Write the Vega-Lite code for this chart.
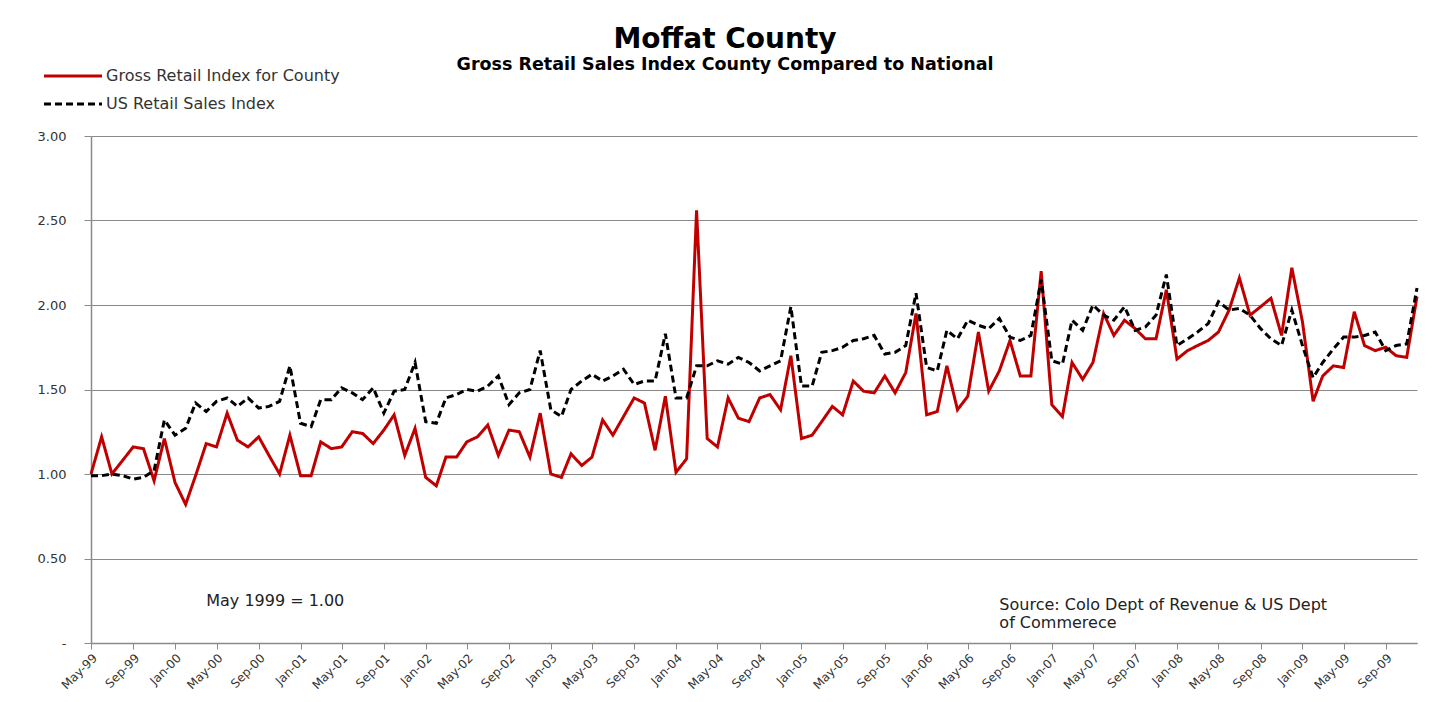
{
  "$schema": "https://vega.github.io/schema/vega-lite/v6.json",
  "width": 1326,
  "height": 507,
  "autosize": {"type": "none"},
  "padding": {"left": 91, "top": 136, "right": 17, "bottom": 59},
  "background": "white",
  "config": {
    "font": "DejaVu Sans",
    "view": {"stroke": null}
  },
  "title": {
    "text": "Moffat County",
    "subtitle": "Gross Retail Sales Index County Compared to National",
    "anchor": "middle",
    "dx": -29,
    "fontSize": 28,
    "fontWeight": "bold",
    "color": "#000000",
    "subtitleFontSize": 17.5,
    "subtitleFontWeight": "bold",
    "subtitleColor": "#000000",
    "subtitlePadding": 2,
    "offset": -5
  },
  "datasets": {
    "index": [
      {"date": "1999-05-01", "county": 1.00, "us": 0.99},
      {"date": "1999-06-01", "county": 1.22, "us": 0.99},
      {"date": "1999-07-01", "county": 1.00, "us": 1.00},
      {"date": "1999-08-01", "county": 1.08, "us": 0.99},
      {"date": "1999-09-01", "county": 1.16, "us": 0.97},
      {"date": "1999-10-01", "county": 1.15, "us": 0.98},
      {"date": "1999-11-01", "county": 0.96, "us": 1.02},
      {"date": "1999-12-01", "county": 1.21, "us": 1.32},
      {"date": "2000-01-01", "county": 0.95, "us": 1.23},
      {"date": "2000-02-01", "county": 0.82, "us": 1.27},
      {"date": "2000-03-01", "county": 0.99, "us": 1.42},
      {"date": "2000-04-01", "county": 1.18, "us": 1.37},
      {"date": "2000-05-01", "county": 1.16, "us": 1.43},
      {"date": "2000-06-01", "county": 1.36, "us": 1.45},
      {"date": "2000-07-01", "county": 1.20, "us": 1.40},
      {"date": "2000-08-01", "county": 1.16, "us": 1.45},
      {"date": "2000-09-01", "county": 1.22, "us": 1.39},
      {"date": "2000-10-01", "county": 1.11, "us": 1.40},
      {"date": "2000-11-01", "county": 1.00, "us": 1.43},
      {"date": "2000-12-01", "county": 1.23, "us": 1.64},
      {"date": "2001-01-01", "county": 0.99, "us": 1.30},
      {"date": "2001-02-01", "county": 0.99, "us": 1.28},
      {"date": "2001-03-01", "county": 1.19, "us": 1.44},
      {"date": "2001-04-01", "county": 1.15, "us": 1.44},
      {"date": "2001-05-01", "county": 1.16, "us": 1.51},
      {"date": "2001-06-01", "county": 1.25, "us": 1.48},
      {"date": "2001-07-01", "county": 1.24, "us": 1.44},
      {"date": "2001-08-01", "county": 1.18, "us": 1.51},
      {"date": "2001-09-01", "county": 1.26, "us": 1.36},
      {"date": "2001-10-01", "county": 1.35, "us": 1.49},
      {"date": "2001-11-01", "county": 1.11, "us": 1.50},
      {"date": "2001-12-01", "county": 1.27, "us": 1.66},
      {"date": "2002-01-01", "county": 0.98, "us": 1.31},
      {"date": "2002-02-01", "county": 0.93, "us": 1.30},
      {"date": "2002-03-01", "county": 1.10, "us": 1.45},
      {"date": "2002-04-01", "county": 1.10, "us": 1.47},
      {"date": "2002-05-01", "county": 1.19, "us": 1.50},
      {"date": "2002-06-01", "county": 1.22, "us": 1.49},
      {"date": "2002-07-01", "county": 1.29, "us": 1.52},
      {"date": "2002-08-01", "county": 1.11, "us": 1.58},
      {"date": "2002-09-01", "county": 1.26, "us": 1.41},
      {"date": "2002-10-01", "county": 1.25, "us": 1.48},
      {"date": "2002-11-01", "county": 1.10, "us": 1.50},
      {"date": "2002-12-01", "county": 1.36, "us": 1.73},
      {"date": "2003-01-01", "county": 1.00, "us": 1.38},
      {"date": "2003-02-01", "county": 0.98, "us": 1.34},
      {"date": "2003-03-01", "county": 1.12, "us": 1.50},
      {"date": "2003-04-01", "county": 1.05, "us": 1.55},
      {"date": "2003-05-01", "county": 1.10, "us": 1.59},
      {"date": "2003-06-01", "county": 1.32, "us": 1.55},
      {"date": "2003-07-01", "county": 1.23, "us": 1.58},
      {"date": "2003-08-01", "county": 1.34, "us": 1.62},
      {"date": "2003-09-01", "county": 1.45, "us": 1.53},
      {"date": "2003-10-01", "county": 1.42, "us": 1.55},
      {"date": "2003-11-01", "county": 1.14, "us": 1.55},
      {"date": "2003-12-01", "county": 1.46, "us": 1.83},
      {"date": "2004-01-01", "county": 1.01, "us": 1.45},
      {"date": "2004-02-01", "county": 1.09, "us": 1.45},
      {"date": "2004-03-01", "county": 2.56, "us": 1.64},
      {"date": "2004-04-01", "county": 1.21, "us": 1.64},
      {"date": "2004-05-01", "county": 1.16, "us": 1.67},
      {"date": "2004-06-01", "county": 1.45, "us": 1.65},
      {"date": "2004-07-01", "county": 1.33, "us": 1.69},
      {"date": "2004-08-01", "county": 1.31, "us": 1.66},
      {"date": "2004-09-01", "county": 1.45, "us": 1.61},
      {"date": "2004-10-01", "county": 1.47, "us": 1.64},
      {"date": "2004-11-01", "county": 1.38, "us": 1.67},
      {"date": "2004-12-01", "county": 1.70, "us": 1.99},
      {"date": "2005-01-01", "county": 1.21, "us": 1.52},
      {"date": "2005-02-01", "county": 1.23, "us": 1.52},
      {"date": "2005-03-01", "county": 1.31, "us": 1.72},
      {"date": "2005-04-01", "county": 1.40, "us": 1.73},
      {"date": "2005-05-01", "county": 1.35, "us": 1.75},
      {"date": "2005-06-01", "county": 1.55, "us": 1.79},
      {"date": "2005-07-01", "county": 1.49, "us": 1.80},
      {"date": "2005-08-01", "county": 1.48, "us": 1.82},
      {"date": "2005-09-01", "county": 1.58, "us": 1.71},
      {"date": "2005-10-01", "county": 1.48, "us": 1.72},
      {"date": "2005-11-01", "county": 1.60, "us": 1.76},
      {"date": "2005-12-01", "county": 1.95, "us": 2.07},
      {"date": "2006-01-01", "county": 1.35, "us": 1.63},
      {"date": "2006-02-01", "county": 1.37, "us": 1.61},
      {"date": "2006-03-01", "county": 1.64, "us": 1.85},
      {"date": "2006-04-01", "county": 1.38, "us": 1.80},
      {"date": "2006-05-01", "county": 1.46, "us": 1.91},
      {"date": "2006-06-01", "county": 1.84, "us": 1.88},
      {"date": "2006-07-01", "county": 1.49, "us": 1.86},
      {"date": "2006-08-01", "county": 1.61, "us": 1.92},
      {"date": "2006-09-01", "county": 1.79, "us": 1.81},
      {"date": "2006-10-01", "county": 1.58, "us": 1.79},
      {"date": "2006-11-01", "county": 1.58, "us": 1.82},
      {"date": "2006-12-01", "county": 2.20, "us": 2.15},
      {"date": "2007-01-01", "county": 1.41, "us": 1.67},
      {"date": "2007-02-01", "county": 1.34, "us": 1.65},
      {"date": "2007-03-01", "county": 1.66, "us": 1.91},
      {"date": "2007-04-01", "county": 1.56, "us": 1.85},
      {"date": "2007-05-01", "county": 1.66, "us": 2.00},
      {"date": "2007-06-01", "county": 1.95, "us": 1.94},
      {"date": "2007-07-01", "county": 1.82, "us": 1.91},
      {"date": "2007-08-01", "county": 1.91, "us": 1.99},
      {"date": "2007-09-01", "county": 1.86, "us": 1.85},
      {"date": "2007-10-01", "county": 1.80, "us": 1.87},
      {"date": "2007-11-01", "county": 1.80, "us": 1.94},
      {"date": "2007-12-01", "county": 2.09, "us": 2.18},
      {"date": "2008-01-01", "county": 1.68, "us": 1.76},
      {"date": "2008-02-01", "county": 1.73, "us": 1.80},
      {"date": "2008-03-01", "county": 1.76, "us": 1.84},
      {"date": "2008-04-01", "county": 1.79, "us": 1.89},
      {"date": "2008-05-01", "county": 1.84, "us": 2.02},
      {"date": "2008-06-01", "county": 1.97, "us": 1.97},
      {"date": "2008-07-01", "county": 2.16, "us": 1.98},
      {"date": "2008-08-01", "county": 1.94, "us": 1.94},
      {"date": "2008-09-01", "county": 1.99, "us": 1.86},
      {"date": "2008-10-01", "county": 2.04, "us": 1.80},
      {"date": "2008-11-01", "county": 1.82, "us": 1.76},
      {"date": "2008-12-01", "county": 2.22, "us": 1.97},
      {"date": "2009-01-01", "county": 1.90, "us": 1.76},
      {"date": "2009-02-01", "county": 1.43, "us": 1.57},
      {"date": "2009-03-01", "county": 1.58, "us": 1.66},
      {"date": "2009-04-01", "county": 1.64, "us": 1.74},
      {"date": "2009-05-01", "county": 1.63, "us": 1.81},
      {"date": "2009-06-01", "county": 1.96, "us": 1.81},
      {"date": "2009-07-01", "county": 1.76, "us": 1.82},
      {"date": "2009-08-01", "county": 1.73, "us": 1.84},
      {"date": "2009-09-01", "county": 1.75, "us": 1.73},
      {"date": "2009-10-01", "county": 1.70, "us": 1.76},
      {"date": "2009-11-01", "county": 1.69, "us": 1.77},
      {"date": "2009-12-01", "county": 2.05, "us": 2.10}
    ]
  },
  "layer": [
    {
      "data": {"name": "index"},
      "transform": [
        {"fold": ["county", "us"], "as": ["series", "value"]}
      ],
      "mark": {"type": "line", "strokeWidth": 3, "strokeJoin": "miter", "interpolate": "linear"},
      "encoding": {
        "x": {
          "field": "date",
          "type": "temporal",
          "scale": {
            "type": "utc",
            "nice": false,
            "domain": [
              {"year": 1999, "month": 5, "date": 1, "utc": true},
              {"year": 2009, "month": 12, "date": 1, "utc": true}
            ]
          },
          "axis": {
            "title": null,
            "format": "%b-%y",
            "tickCount": {"interval": "month", "step": 4},
            "labelAngle": -45,
            "labelAlign": "right",
            "labelBaseline": "top",
            "labelFontSize": 12,
            "labelColor": "#333333",
            "labelPadding": 3,
            "labelOverlap": false,
            "labelFlush": false,
            "grid": false,
            "tickSize": 6,
            "tickColor": "#8a8a8a",
            "domainColor": "#8a8a8a",
            "domainWidth": 1.5
          }
        },
        "y": {
          "field": "value",
          "type": "quantitative",
          "scale": {"domain": [0, 3], "nice": false, "zero": true},
          "axis": {
            "title": null,
            "values": [0, 0.5, 1, 1.5, 2, 2.5, 3],
            "labelExpr": "datum.value == 0 ? '-' : format(datum.value, '.2f')",
            "labelFontSize": 13,
            "labelColor": "#333333",
            "labelPadding": 18,
            "tickSize": 7,
            "tickColor": "#8a8a8a",
            "domainColor": "#8a8a8a",
            "domainWidth": 1.5,
            "grid": true,
            "gridColor": "#8a8a8a",
            "gridWidth": 1
          }
        },
        "color": {
          "field": "series",
          "type": "nominal",
          "scale": {"domain": ["county", "us"], "range": ["#c00000", "#000000"]},
          "legend": {
            "orient": "none",
            "legendX": -26,
            "legendY": -68,
            "title": null,
            "symbolType": "M-5,0H5",
            "symbolSize": 134.6,
            "symbolStrokeWidth": 3,
            "labelFontSize": 16,
            "labelColor": "#333333",
            "labelOffset": 25,
            "labelLimit": 500,
            "rowPadding": 12,
            "labelExpr": "datum.label == 'county' ? 'Gross Retail Index for County' : 'US Retail Sales Index'"
          }
        },
        "strokeDash": {
          "field": "series",
          "type": "nominal",
          "scale": {"domain": ["county", "us"], "range": [[1, 0], [7, 4]]},
          "legend": {
            "orient": "none",
            "legendX": -26,
            "legendY": -68,
            "title": null,
            "symbolType": "M-5,0H5",
            "symbolSize": 134.6,
            "symbolStrokeWidth": 3,
            "labelFontSize": 16,
            "labelColor": "#333333",
            "labelOffset": 25,
            "labelLimit": 500,
            "rowPadding": 12,
            "labelExpr": "datum.label == 'county' ? 'Gross Retail Index for County' : 'US Retail Sales Index'"
          }
        }
      }
    },
    {
      "data": {"values": [{}]},
      "mark": {"type": "text", "text": "May 1999 = 1.00", "align": "left", "baseline": "middle", "fontSize": 16, "color": "#222222"},
      "encoding": {
        "x": {"datum": {"year": 2000, "month": 4, "date": 1, "utc": true}, "type": "temporal"},
        "y": {"datum": 0.25, "type": "quantitative"}
      }
    },
    {
      "data": {"values": [{}]},
      "mark": {
        "type": "text",
        "text": ["Source: Colo Dept of Revenue & US Dept", "of Commerece"],
        "align": "left",
        "baseline": "top",
        "lineHeight": 18,
        "fontSize": 16,
        "color": "#222222"
      },
      "encoding": {
        "x": {"datum": {"year": 2006, "month": 8, "date": 1, "utc": true}, "type": "temporal"},
        "y": {"datum": 0.272, "type": "quantitative"}
      }
    }
  ]
}
